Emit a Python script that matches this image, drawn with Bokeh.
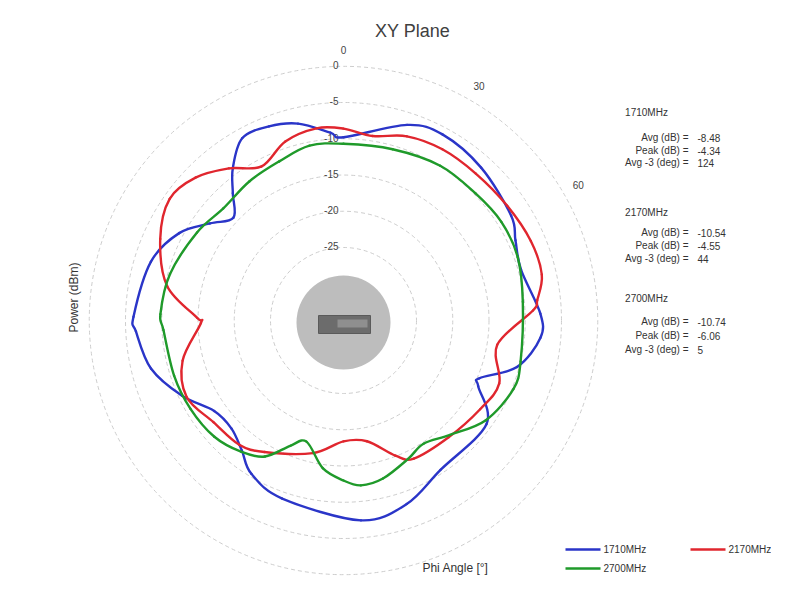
import numpy as np
from bokeh.plotting import figure
from bokeh.models import Range1d
from bokeh.core.properties import value
from bokeh.embed import file_html
from bokeh.resources import INLINE

# ---------------- data ----------------
ring_db = [0, -5, -10, -15, -20, -25]
ring_labels = ["0", "-5", "-10", "-15", "-20", "-25"]
angle_ticks = [0, 30, 60]
angle_labels = ["0", "30", "60"]

ang_1710 = [0, 18, 28, 42, 58, 65, 74, 88, 95, 105, 113, 116, 126, 147, 161, 175,
            199, 211, 218, 226, 235, 245, 256, 267, 271, 287, 298, 306, 313, 319,
            324, 331, 339, 347, 356]
db_1710 = [-9.8, -6.7, -6.0, -6.7, -7.8, -8.9, -9.6, -7.9, -7.8, -10.3, -14.7, -14.4,
           -10.7, -10.5, -8.3, -7.4, -9.1, -10.4, -12.3, -13.6, -13.3, -10.5, -7.7,
           -6.4, -6.1, -7.3, -9.4, -12.3, -14.3, -11.8, -9.1, -6.3, -6.4, -7.2, -9.1]

ang_2170 = [0, 9, 19, 30, 42, 55, 67, 77, 84, 87, 99, 112, 123, 138, 153, 159, 169,
            180, 193, 211, 220, 232, 244, 256, 269, 271, 281, 294, 305, 314, 323,
            332, 342, 352]
db_2170 = [-8.6, -9.3, -8.2, -7.8, -7.8, -7.5, -7.0, -7.0, -8.2, -8.9, -13.6, -11.9,
           -12.6, -13.4, -13.7, -15.1, -18.1, -18.4, -16.3, -13.9, -12.7, -12.3,
           -11.0, -12.2, -15.4, -14.9, -10.3, -7.4, -5.8, -6.7, -8.8, -11.0, -9.1,
           -8.3]

ang_2700 = [0, 16, 32, 46, 58, 70, 84, 103, 112, 125, 137, 147, 155, 166, 174, 180,
            188, 197, 203, 210, 218, 228, 240, 252, 267, 272, 285, 301, 313, 326,
            338, 349]
db_2700 = [-10.7, -10.5, -9.9, -9.8, -9.4, -9.5, -10.2, -10.0, -9.8, -11.1, -13.5,
           -14.8, -14.0, -12.6, -12.2, -13.0, -14.5, -17.6, -16.3, -13.4, -12.1,
           -11.1, -10.7, -10.5, -10.2, -9.8, -10.3, -11.5, -12.4, -11.9, -11.4,
           -10.5]

series_names = ["1710MHz", "2170MHz", "2700MHz"]
series_colors = ["#2a35c8", "#e0262e", "#1f9a2a"]
stat_labels = ["Avg (dB) =", "Peak (dB) =", "Avg -3 (deg) ="]
stats_1710 = ["-8.48", "-4.34", "124"]
stats_2170 = ["-10.54", "-4.55", "44"]
stats_2700 = ["-10.74", "-6.06", "5"]

# ---------------- geometry ----------------
W, H = 771, 577
CX, CY = 343, 320          # centre in screenshot px
PXU = 7.25                 # px per dB
R0 = 35.07                 # radial offset (dB at the centre)
FONT = "Liberation Sans"


def px(sx, sy):
    return (sx - CX) / PXU, (CY - sy) / PXU


x0, y0 = px(0, 0)
x1, y1 = px(W, H)
p = figure(width=W, height=H, output_backend="svg", toolbar_location=None,
           x_range=Range1d(x0, x1), y_range=Range1d(y1, y0),
           x_axis_type=None, y_axis_type=None, min_border=0,
           background_fill_color="white", border_fill_color="white")
p.grid.visible = False
p.outline_line_color = None

# rings
p.circle(x=[0] * len(ring_db), y=[0] * len(ring_db),
         radius=[d + R0 for d in ring_db], fill_color=None,
         line_color="#cdcdcd", line_width=1, line_dash="4 3")

# centre disk + device picture
dx, dy = px(343, 322)
p.circle(x=[dx], y=[dy], radius=47 / PXU, fill_color="#bdbdbd", line_color=None)
rx, ry = px(344, 324)
p.rect(x=[rx], y=[ry], width=52 / PXU, height=18 / PXU,
       fill_color="#6c6c6c", line_color="#5a5a5a")
rx2, ry2 = px(352, 323)
p.rect(x=[rx2], y=[ry2], width=30 / PXU, height=8 / PXU,
       fill_color="#8f8f8f", line_color=None)

# radial tick labels
p.text(x=[-5 / PXU] * len(ring_db), y=[d + R0 + 1 / PXU for d in ring_db],
       text=ring_labels, text_font=value(FONT), text_font_size="10px",
       text_color="#444444", text_align="right", text_baseline="middle")

# angle labels
ra = 271 / PXU
aa = np.radians(angle_ticks)
p.text(x=list(ra * np.sin(aa)), y=list(ra * np.cos(aa)), text=angle_labels,
       text_font=value(FONT), text_font_size="10px", text_color="#444444",
       text_align="center", text_baseline="middle")


# curves: smooth closed path through the read points (Catmull-Rom as Beziers)
def smooth_closed(ang, db):
    a = np.radians(np.asarray(ang, dtype=float))
    r = np.asarray(db, dtype=float) + R0
    P = np.column_stack([r * np.sin(a), r * np.cos(a)])
    P0 = np.roll(P, 1, axis=0)
    P2 = np.roll(P, -1, axis=0)
    P3 = np.roll(P, -2, axis=0)
    c1 = P + (P2 - P0) / 6.0
    c2 = P2 - (P3 - P) / 6.0
    return dict(x0=P[:, 0], y0=P[:, 1], x1=P2[:, 0], y1=P2[:, 1],
                cx0=c1[:, 0], cy0=c1[:, 1], cx1=c2[:, 0], cy1=c2[:, 1])


for ang, db, col in [(ang_1710, db_1710, series_colors[0]),
                     (ang_2170, db_2170, series_colors[1]),
                     (ang_2700, db_2700, series_colors[2])]:
    s = smooth_closed(ang, db)
    p.bezier(x0=s["x0"], y0=s["y0"], x1=s["x1"], y1=s["y1"],
             cx0=s["cx0"], cy0=s["cy0"], cx1=s["cx1"], cy1=s["cy1"],
             line_color=col, line_width=2.4, line_cap="round")

# title
tx, ty = px(412, 30)
p.text(x=[tx], y=[ty], text=["XY Plane"], text_font=value(FONT),
       text_font_size="18px", text_color="#404040", text_align="center",
       text_baseline="middle")

# axis labels
ax_, ay_ = px(73, 297)
p.text(x=[ax_], y=[ay_], text=["Power (dBm)"], angle=np.pi / 2,
       text_font=value(FONT), text_font_size="12px", text_color="#333333",
       text_align="center", text_baseline="middle")
bx, by = px(455, 567)
p.text(x=[bx], y=[by], text=["Phi Angle [°]"], text_font=value(FONT),
       text_font_size="12px", text_color="#333333", text_align="center",
       text_baseline="middle")

# statistics blocks
blocks = [(series_names[0], stats_1710, 112, [137, 150, 162]),
          (series_names[1], stats_2170, 212, [232, 245, 258]),
          (series_names[2], stats_2700, 298, [321, 335, 349])]
for name, vals, hy, ly in blocks:
    hx, hyy = px(646, hy)
    p.text(x=[hx], y=[hyy], text=[name], text_font=value(FONT),
           text_font_size="10px", text_color="#333333", text_align="center",
           text_baseline="middle")
    lx = [px(688, yy)[0] for yy in ly]
    lyy = [px(688, yy)[1] for yy in ly]
    p.text(x=lx, y=lyy, text=stat_labels, text_font=value(FONT),
           text_font_size="10px", text_color="#333333", text_align="right",
           text_baseline="middle")
    vx = [px(697, yy)[0] for yy in ly]
    p.text(x=vx, y=lyy, text=vals, text_font=value(FONT),
           text_font_size="10px", text_color="#333333", text_align="left",
           text_baseline="middle")

# legend
leg_pos = [(565, 549), (690, 549), (565, 568)]
for (lx0, ly0), name, col in zip(leg_pos, series_names, series_colors):
    a0, b0 = px(lx0, ly0)
    a1, _ = px(lx0 + 35, ly0)
    p.line([a0, a1], [b0, b0], line_color=col, line_width=2.4)
    tx0, _ = px(lx0 + 38, ly0)
    p.text(x=[tx0], y=[b0], text=[name], text_font=value(FONT),
           text_font_size="10px", text_color="#333333", text_align="left",
           text_baseline="middle")

open("out.html", "w").write(file_html(p, INLINE))
